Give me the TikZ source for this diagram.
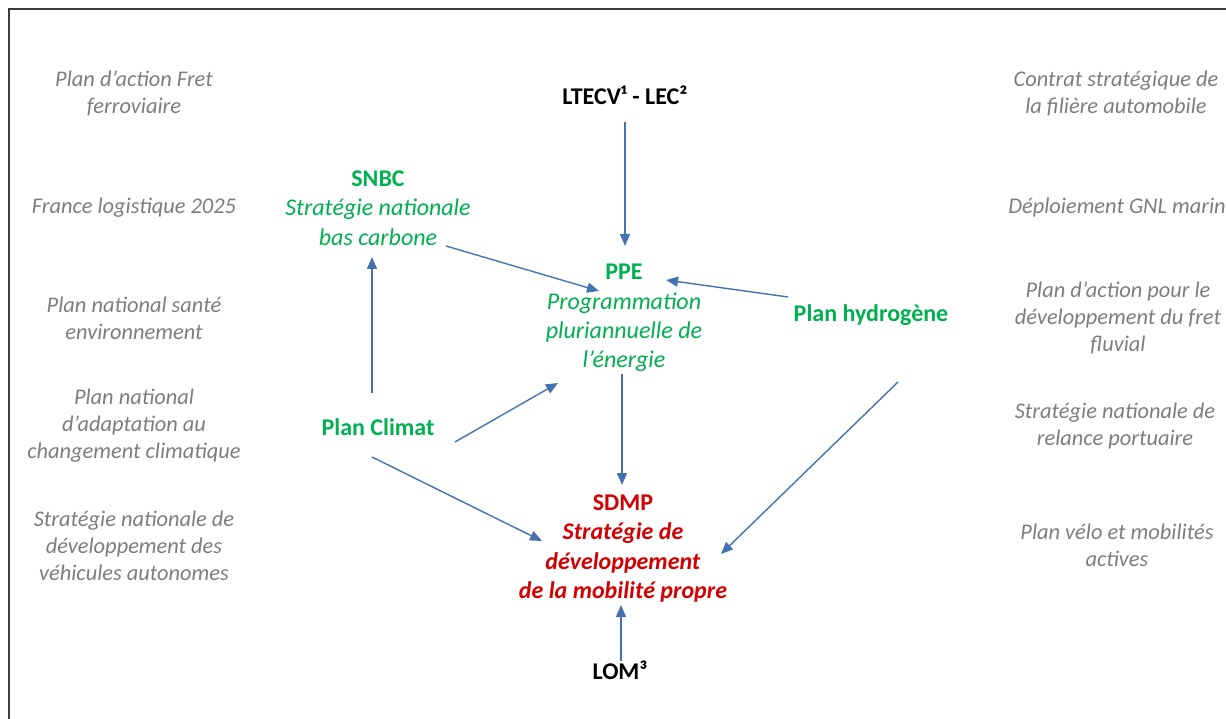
\documentclass[tikz,border=0pt]{standalone}
\usepackage{fontspec}
\setmainfont{Carlito}
\usetikzlibrary{arrows.meta}
\definecolor{greytxt}{RGB}{125,125,125}
\definecolor{greentxt}{RGB}{0,176,80}
\definecolor{redtxt}{RGB}{210,0,0}
\definecolor{arrowblue}{RGB}{68,114,176}
\definecolor{framegrey}{RGB}{60,60,60}
\begin{document}
\begin{tikzpicture}[x=1pt,y=-1pt,
  side/.style={font=\fontsize{22.4}{27}\selectfont\itshape, text=greytxt, align=center, inner sep=0pt},
  keytxt/.style={font=\fontsize{24}{29.3}\selectfont, text=greentxt, align=center, inner sep=0pt},
  keybold/.style={font=\fontsize{24}{29.3}\selectfont\bfseries, text=greentxt, align=center, inner sep=0pt},
  redtxtst/.style={font=\fontsize{24}{29.3}\selectfont\bfseries, text=redtxt, align=center, inner sep=0pt},
  blacktxt/.style={font=\fontsize{24}{29.3}\selectfont\bfseries, text=black, align=center, inner sep=0pt},
  arr/.style={draw=arrowblue, line width=1.4pt, -{Triangle[length=12pt,width=10pt]}}]
\useasboundingbox (0,0) rectangle (1226,719);
\draw[line width=2pt, framegrey] (9,719) -- (9,9) -- (1226,9);

% left column
\node[side] (l1) at (134,94) {Plan d’action Fret\\ferroviaire};
\node[side] (l2) at (134,208) {France logistique 2025};
\node[side] (l3) at (134,318) {Plan national santé\\environnement};
\node[side] (l4) at (134,426) {Plan national\\d’adaptation au\\changement climatique};
\node[side] (l5) at (134,546) {Stratégie nationale de\\développement des\\véhicules autonomes};

% right column
\node[side] (r1) at (1116,94) {Contrat stratégique de\\la filière automobile};
\node[side] (r2) at (1117,208) {Déploiement GNL marin};
\node[side] (r3) at (1118,318) {Plan d’action pour le\\développement du fret\\fluvial};
\node[side] (r4) at (1115,426) {Stratégie nationale de\\relance portuaire};
\node[side] (r5) at (1117,545) {Plan vélo et mobilités\\actives};

% centre
\node[blacktxt] (ltecv) at (625,95) {LTECV¹ - LEC²};
\node[keytxt] (snbc) at (378,208) {\textbf{SNBC}\\\textit{Stratégie nationale}\\\textit{bas carbone}};
\node[keytxt] (ppe) at (624,318) {\textbf{PPE}\\\textit{Programmation}\\\textit{pluriannuelle de}\\\textit{l’énergie}};
\node[keybold] (h2) at (871,315) {Plan hydrogène};
\node[keybold] (climat) at (378,427) {Plan Climat};
\node[redtxtst] (sdmp) at (623,548.5) {SDMP\\\textit{Stratégie de}\\\textit{développement}\\\textit{de la mobilité propre}};
\node[blacktxt] (lom) at (620,670) {LOM³};

% connector end points
\coordinate (a1s) at (625,122); \coordinate (a1e) at (625,246);
\coordinate (a2s) at (446,246); \coordinate (a2e) at (599,291);
\coordinate (a3s) at (788,297); \coordinate (a3e) at (666,280);
\coordinate (a4s) at (372,393); \coordinate (a4e) at (372,257);
\coordinate (a5s) at (455,442); \coordinate (a5e) at (558,383);
\coordinate (a6s) at (622,374); \coordinate (a6e) at (622,485);
\coordinate (a7s) at (372,457); \coordinate (a7e) at (542,541);
\coordinate (a8s) at (898,382); \coordinate (a8e) at (721,554);
\coordinate (a9s) at (621,661); \coordinate (a9e) at (621,605);

\draw[arr] (a1s) -- (a1e);
\draw[arr] (a2s) -- (a2e);
\draw[arr] (a3s) -- (a3e);
\draw[arr] (a4s) -- (a4e);
\draw[arr] (a5s) -- (a5e);
\draw[arr] (a6s) -- (a6e);
\draw[arr] (a7s) -- (a7e);
\draw[arr] (a8s) -- (a8e);
\draw[arr] (a9s) -- (a9e);
\end{tikzpicture}
\end{document}
